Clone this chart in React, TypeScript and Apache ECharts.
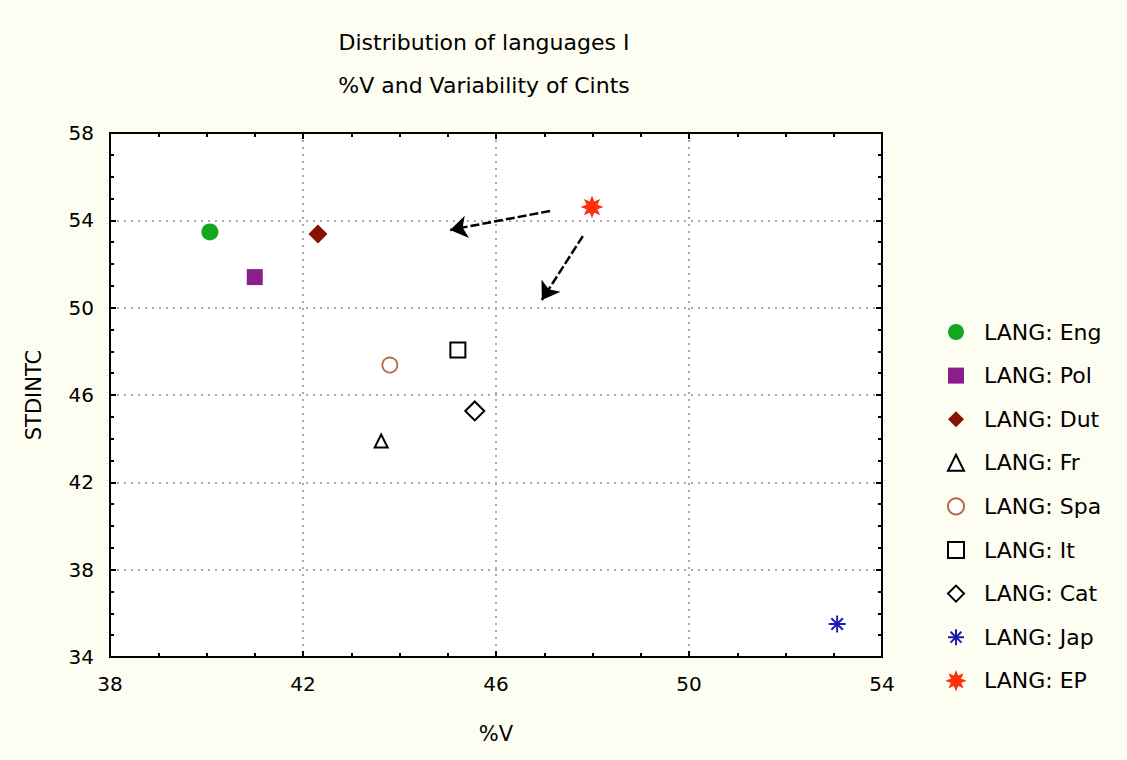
import React, { useEffect, useRef } from "react";
import * as echarts from "echarts";

const names = ["LANG: Eng", "LANG: Pol", "LANG: Dut", "LANG: Fr", "LANG: Spa", "LANG: It", "LANG: Cat", "LANG: Jap", "LANG: EP"];
const xValues = [40.07, 41.0, 42.31, 43.62, 43.8, 45.21, 45.56, 53.07, 47.99];
const yValues = [53.47, 51.4, 53.37, 43.89, 47.37, 48.06, 45.27, 35.51, 54.61];
const arrowStarts = [[47.12, 54.43], [47.8, 53.28]];
const arrowEnds = [[45.05, 53.56], [46.95, 50.35]];
const titleLines = ["Distribution of languages I", "%V and Variability of Cints"];
const xTicks = { min: 38, max: 54, interval: 4 };
const yTicks = { min: 34, max: 58, interval: 4 };

const FONT = "DejaVu Sans";

const asteriskPath = "path://M0,5L10,5M5,0L5,10M1.6,1.6L8.4,8.4M8.4,1.6L1.6,8.4";
const sunPath =
  "path://M5,0L6,2.6L8.5,1.5L7.4,4L10,5L7.4,6L8.5,8.5L6,7.4L5,10L4,7.4L1.5,8.5L2.6,6L0,5L2.6,4L1.5,1.5L4,2.6Z";

const styles: any[] = [
  { symbol: "circle", size: 17, itemStyle: { color: "#12a81e" } },
  { symbol: "rect", size: 16, itemStyle: { color: "#8a1e8a" } },
  { symbol: "diamond", size: 19, itemStyle: { color: "#861200" } },
  { symbol: "triangle", size: 13, itemStyle: { color: "#ffffff", borderColor: "#000000", borderWidth: 2 } },
  { symbol: "circle", size: 15, itemStyle: { color: "#ffffff", borderColor: "#b86a4c", borderWidth: 1.8 } },
  { symbol: "rect", size: 15, itemStyle: { color: "#ffffff", borderColor: "#000000", borderWidth: 2 } },
  { symbol: "diamond", size: 19, itemStyle: { color: "#ffffff", borderColor: "#000000", borderWidth: 2 } },
  { symbol: asteriskPath, size: 17, itemStyle: { color: "transparent", borderColor: "#1c1cb0", borderWidth: 2 } },
  { symbol: sunPath, size: 19, itemStyle: { color: "#ff3010", borderColor: "#ff3010", borderWidth: 1.5 } },
];

export default function App() {
  const ref = useRef<HTMLDivElement>(null);
  useEffect(() => {
    document.body.style.margin = "0";
    const chart = echarts.init(ref.current!, null, { renderer: "svg" });
    const gridLeft = 110;
    const gridTop = 133;
    const gridWidth = 772;
    const gridHeight = 524;

    const scatterSeries = names.map((n, i) => ({
      type: "scatter",
      name: n,
      data: [[xValues[i], yValues[i]]],
      symbol: styles[i].symbol,
      symbolSize: styles[i].size,
      itemStyle: { ...styles[i].itemStyle, opacity: 1 },
      emphasis: { disabled: true },
      z: 5,
    }));

    const axisCommon = {
      type: "value",
      axisLine: { show: true, onZero: false, lineStyle: { color: "#000", width: 2 } },
      axisTick: { show: true, inside: true, length: 6, lineStyle: { color: "#000", width: 2 } },
      minorTick: { show: true, splitNumber: 4, length: 4, lineStyle: { color: "#000", width: 2 } },
    };

    chart.setOption({
      animation: false,
      backgroundColor: "#fdfdf1",
      textStyle: { fontFamily: FONT },
      graphic: titleLines.map((t, i) => ({
        type: "text",
        x: 484,
        y: 42 + i * 43,
        style: {
          text: t,
          fill: "#000",
          font: `22px "${FONT}"`,
          textAlign: "center",
          textVerticalAlign: "middle",
        },
      })),
      grid: {
        left: gridLeft,
        top: gridTop,
        width: gridWidth,
        height: gridHeight,
        show: true,
        backgroundColor: "#ffffff",
        borderColor: "#000",
        borderWidth: 2,
      },
      legend: {
        data: names,
        orient: "vertical",
        left: 942,
        top: 316,
        itemWidth: 16,
        itemHeight: 16,
        itemGap: 21.6,
        textStyle: { fontFamily: FONT, fontSize: 22, color: "#000", lineHeight: 22, padding: [0, 0, 0, 15] },
      },
      xAxis: [
        {
          ...axisCommon,
          position: "bottom",
          min: xTicks.min,
          max: xTicks.max,
          interval: xTicks.interval,
          axisLabel: { color: "#000", fontFamily: FONT, fontSize: 20, margin: 17 },
          splitLine: { show: true, lineStyle: { color: "#a8a8a8", type: [2, 5], width: 2 } },
          name: "%V",
          nameLocation: "middle",
          nameGap: 66,
          nameTextStyle: { color: "#000", fontFamily: FONT, fontSize: 21 },
        },
        {
          ...axisCommon,
          position: "top",
          min: xTicks.min,
          max: xTicks.max,
          interval: xTicks.interval,
          axisLabel: { show: false },
          splitLine: { show: false },
        },
      ],
      yAxis: [
        {
          ...axisCommon,
          position: "left",
          min: yTicks.min,
          max: yTicks.max,
          interval: yTicks.interval,
          axisLabel: { color: "#000", fontFamily: FONT, fontSize: 20, margin: 16 },
          splitLine: { show: true, lineStyle: { color: "#a8a8a8", type: [2, 5], width: 2 } },
          name: "STDINTC",
          nameLocation: "middle",
          nameGap: 66,
          nameRotate: 90,
          nameTextStyle: { color: "#000", fontFamily: FONT, fontSize: 21 },
        },
        {
          ...axisCommon,
          position: "right",
          min: yTicks.min,
          max: yTicks.max,
          interval: yTicks.interval,
          axisLabel: { show: false },
          splitLine: { show: false },
        },
      ],
      series: [
        ...scatterSeries,
        {
          type: "lines",
          name: "arrows",
          coordinateSystem: "cartesian2d",
          xAxisIndex: 0,
          yAxisIndex: 0,
          symbol: ["none", "arrow"],
          symbolSize: [4, 17],
          lineStyle: { color: "#000", width: 2.5, type: [9, 3], opacity: 1 },
          emphasis: { disabled: true },
          data: arrowStarts.map((s, i) => ({ coords: [s, arrowEnds[i]] })),
          z: 4,
        },
      ],
    });
    return () => chart.dispose();
  }, []);
  return <div ref={ref} style={{ width: 1127, height: 760 }} />;
}
